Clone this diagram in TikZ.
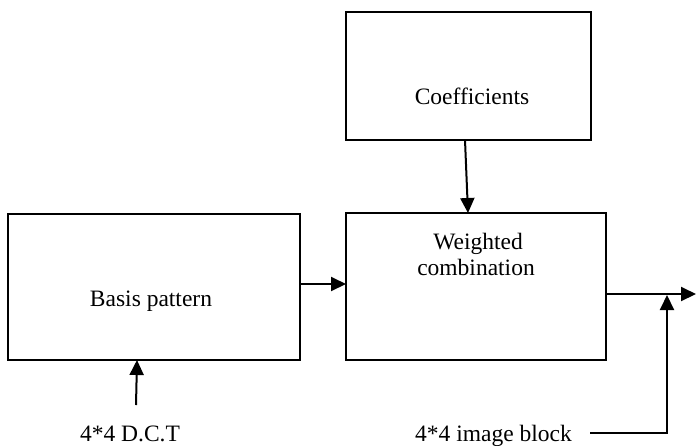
\documentclass[tikz,border=0pt]{standalone}
\usepackage{fontspec}
\setmainfont{Liberation Serif}
\usetikzlibrary{arrows.meta}
\begin{document}
\begin{tikzpicture}[x=1pt,y=-1pt,
  box/.style={draw,line width=1.5pt,rectangle,inner sep=0pt},
  lbl/.style={font=\fontsize{23.5}{26}\selectfont,inner sep=0pt,anchor=base,align=center},
  arr/.style={line width=2pt,-{Triangle[length=15pt,width=14pt]}},
  ln/.style={line width=2pt}]
\useasboundingbox (0,0) rectangle (696,445);
% boxes
\node[box,minimum width=292pt,minimum height=146pt] (basis) at (154,287) {};
\node[box,minimum width=260pt,minimum height=147pt] (weight) at (476,286.5) {};
\node[box,minimum width=245pt,minimum height=128pt] (coef) at (468.5,76) {};
% texts
\node[lbl] (tbasis) at (151,306) {Basis pattern};
\node[lbl] (tcoef) at (472,104) {Coefficients};
\node[lbl] (tw1) at (478,249) {Weighted};
\node[lbl] (tw2) at (476,275) {combination};
\node[lbl] (tdct) at (130,441) {4*4 D.C.T};
\node[lbl] (timg) at (493.5,441) {4*4 image block};
% coordinates
\coordinate (c1) at (465,140);
\coordinate (c2) at (468,213);
\coordinate (b1) at (300,284);
\coordinate (b2) at (346,284);
\coordinate (d1) at (136,405);
\coordinate (d2) at (137,360);
\coordinate (o1) at (606,294);
\coordinate (o2) at (696,294);
\coordinate (i1) at (590,433);
\coordinate (i2) at (667,433);
\coordinate (i3) at (667,295);
% connectors
\draw[arr] (c1) -- (c2);
\draw[arr] (b1) -- (b2);
\draw[arr] (d1) -- (d2);
\draw[arr] (o1) -- (o2);
\draw[arr] (i1) -- (i2) -- (i3);
\end{tikzpicture}
\end{document}
